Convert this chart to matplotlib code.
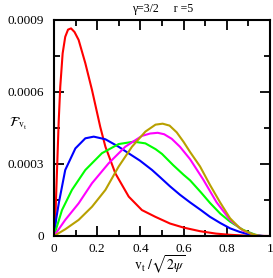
import matplotlib
matplotlib.use('Agg')
import matplotlib.pyplot as plt
from matplotlib.ticker import MultipleLocator

plt.rcParams['font.family'] = 'Liberation Serif'
plt.rcParams['mathtext.fontset'] = 'stix'

# curve values (v_t/sqrt(2psi), F)
red_v = [0, 0.006, 0.014, 0.022, 0.029, 0.040, 0.052, 0.065, 0.079, 0.095, 0.114, 0.145, 0.176,
         0.214, 0.238, 0.284, 0.346, 0.407, 0.469, 0.537, 0.60, 0.676, 0.75, 0.815, 0.9, 1.0]
red_f = [0, 0.000067, 0.000275, 0.000483, 0.000622, 0.000761, 0.00083, 0.00086, 0.000865, 0.00085,
         0.000817, 0.00072, 0.000608, 0.000455, 0.000372, 0.000261, 0.000164, 0.000108, 0.00008,
         0.000052, 0.000035, 0.00002, 0.00001, 0.000005, 0.000001, 0]

blue_v = [0, 0.01, 0.022, 0.052, 0.099, 0.145, 0.184, 0.238, 0.299, 0.35, 0.398, 0.454, 0.491,
          0.537, 0.583, 0.63, 0.68, 0.722, 0.77, 0.815, 0.86, 0.892, 0.93, 0.97]
blue_f = [0, 0.00007, 0.000136, 0.000275, 0.000365, 0.000407, 0.000414, 0.000403, 0.000372,
          0.000342, 0.000314, 0.000275, 0.000245, 0.000207, 0.000172, 0.00014, 0.000108,
          0.00008, 0.000054, 0.000032, 0.000017, 0.000009, 0.000003, 0]

green_v = [0, 0.037, 0.083, 0.145, 0.222, 0.299, 0.369, 0.423, 0.47, 0.5, 0.552, 0.6, 0.63,
           0.68, 0.722, 0.77, 0.815, 0.876, 0.93, 0.96]
green_f = [0, 0.000108, 0.000192, 0.000275, 0.000345, 0.000383, 0.000393, 0.000386, 0.000362,
           0.000342, 0.000295, 0.000255, 0.000232, 0.000182, 0.000138, 0.000093, 0.00006,
           0.000025, 0.000006, 0]

magenta_v = [0, 0.052, 0.114, 0.176, 0.253, 0.33, 0.407, 0.445, 0.48, 0.51, 0.545, 0.583, 0.63,
             0.691, 0.753, 0.815, 0.876, 0.93, 0.96]
magenta_f = [0, 0.000067, 0.000136, 0.00022, 0.000303, 0.000372, 0.000417, 0.000427, 0.00043,
             0.000424, 0.000405, 0.000372, 0.00032, 0.000235, 0.00014, 0.000067, 0.000022,
             0.000004, 0]

olive_v = [0, 0.052, 0.114, 0.176, 0.238, 0.299, 0.361, 0.423, 0.47, 0.503, 0.535, 0.568, 0.6,
           0.63, 0.676, 0.722, 0.769, 0.815, 0.861, 0.907, 0.95]
olive_f = [0, 0.000028, 0.000067, 0.000122, 0.000192, 0.000289, 0.000372, 0.000435, 0.000464,
           0.000468, 0.00046, 0.000432, 0.000392, 0.00035, 0.00029, 0.000213, 0.00014, 0.000074,
           0.000032, 0.000011, 0]

x_ticks = [0, 0.2, 0.4, 0.6, 0.8, 1]
x_labels = ['0', '0.2', '0.4', '0.6', '0.8', '1']
y_ticks = [0, 0.0003, 0.0006, 0.0009]
y_labels = ['0', '0.0003', '0.0006', '0.0009']

fig = plt.figure(figsize=(2.73, 2.78), dpi=100)
ax = fig.add_axes([54 / 273, 1 - 236 / 278, 216 / 273, 216 / 278])

lw = 1.5
ax.plot(red_v, red_f, color='#ff0000', lw=lw)
ax.plot(blue_v, blue_f, color='#0000ff', lw=lw)
ax.plot(green_v, green_f, color='#00ff00', lw=lw)
ax.plot(magenta_v, magenta_f, color='#ff00ff', lw=lw)
ax.plot(olive_v, olive_f, color='#b8a000', lw=lw)

ax.set_xlim(0, 1)
ax.set_ylim(0, 0.0009)
ax.set_xticks(x_ticks)
ax.set_xticklabels(x_labels)
ax.set_yticks(y_ticks)
ax.set_yticklabels(y_labels)
ax.xaxis.set_minor_locator(MultipleLocator(0.1))
ax.yaxis.set_minor_locator(MultipleLocator(0.00015))
ax.tick_params(which='both', direction='in', top=True, right=True, width=1.3, labelsize=9.5)
ax.tick_params(which='major', length=7)
ax.tick_params(which='minor', length=4)
ax.tick_params(axis='y', pad=7)
ax.tick_params(axis='x', pad=5)
for s in ax.spines.values():
    s.set_linewidth(1.5)

fig.text(163 / 273, 1 - 9 / 278, 'γ=3/2     r =5', ha='center', va='center', fontsize=8.5)
fig.text(160 / 273, 1 - 265 / 278, r'$\mathrm{v_t}\ /\sqrt{2\psi}$', ha='center', va='center',
         fontsize=10)
fig.text(18 / 273, 1 - 124 / 278, r'$\mathcal{F}_{\mathrm{v_t}}$', ha='center', va='center',
         fontsize=10)

fig.savefig('out.png', dpi=100)
